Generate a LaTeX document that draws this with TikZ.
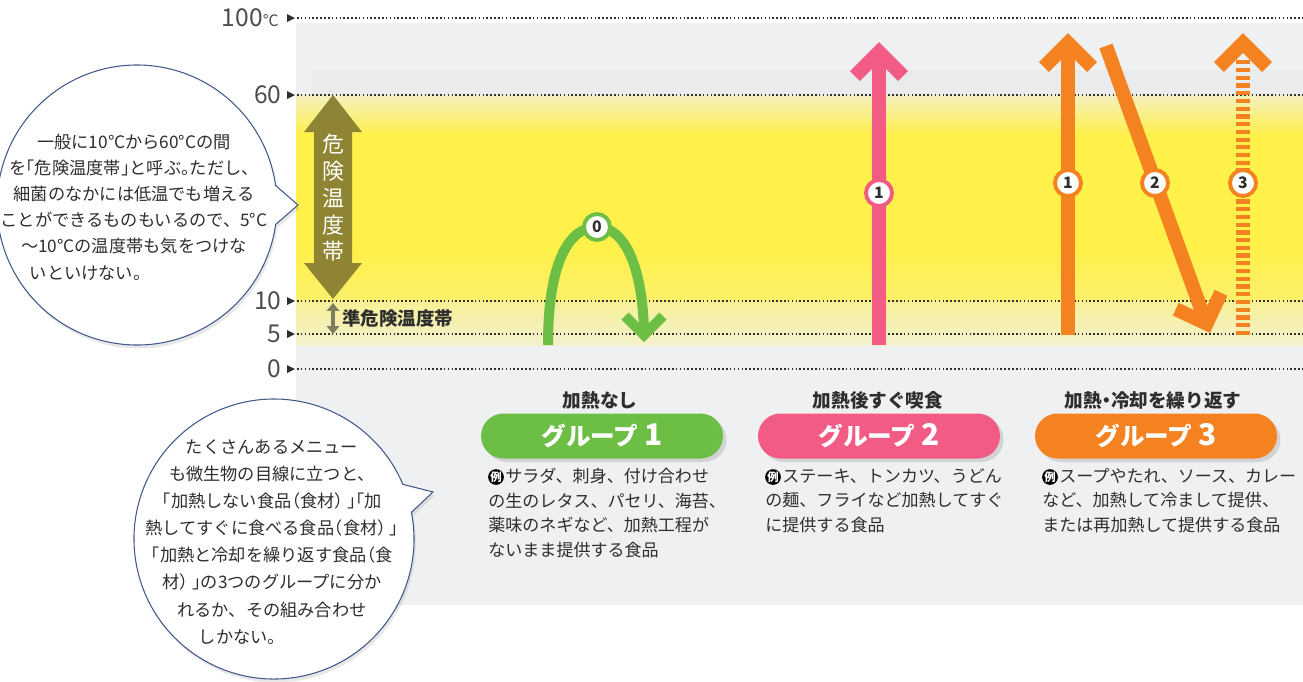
\documentclass[tikz,border=0pt]{standalone}
\usepackage{fontspec}
\setmainfont{Noto Sans CJK JP}
\usetikzlibrary{arrows.meta,shadows}
\definecolor{grp1}{HTML}{6DBE45}
\definecolor{grp2}{HTML}{F25C84}
\definecolor{grp3}{HTML}{F58220}
\definecolor{panel}{HTML}{EFF0F2}
\definecolor{panedark}{HTML}{EAEBED}
\definecolor{band}{HTML}{FFF04A}
\definecolor{olive}{HTML}{857B30}
\definecolor{olivegray}{HTML}{7E7E5E}
\definecolor{bubbleline}{HTML}{41598A}
\definecolor{ink}{HTML}{2E2E2E}
\newcommand{\openq}{\makebox[0.5em][r]{「}}
\newcommand{\closeq}{\makebox[0.5em][l]{」}}
\newcommand{\openp}{\makebox[0.5em][r]{（}}
\newcommand{\closep}{\makebox[0.5em][l]{）}}
\newcommand{\hmaru}{\makebox[0.5em][l]{。}}
\newcommand{\nakag}{\makebox[0.5em][c]{・}}
\begin{document}
\begin{tikzpicture}[x=0.02cm,y=-0.02cm,
  tick/.style={anchor=east,inner sep=0,text=ink!85,font=\fontsize{14}{14}\selectfont},
  grid/.style={line width=0.9pt,dash pattern=on 0.9pt off 1.3pt,ink},
  shaft/.style={line width=0.28cm},
  numdot/.style={circle,fill=white,draw=#1,line width=2.2pt,minimum size=0.52cm,inner sep=0,
    text=ink,font=\fontsize{9}{9}\selectfont\bfseries},
  pill/.style={rounded corners=0.45cm,fill=#1,minimum width=4.84cm,minimum height=0.9cm,
    text=white,font=\fontsize{14}{14}\selectfont\bfseries,
    drop shadow={opacity=0.25,shadow xshift=2pt,shadow yshift=-2pt}},
  head/.style={inner sep=0,text=ink,font=\fontsize{10.6}{10.6}\selectfont\bfseries},
  desc/.style={anchor=north west,align=left,inner sep=0,text=ink,font=\fontsize{9.7}{13.9}\selectfont},
  rei/.style={circle,fill=black,inner sep=0,minimum size=0.3cm,text=white,font=\fontsize{6.5}{6.5}\selectfont\bfseries},
  bubble/.style={fill=white,draw=bubbleline,line width=0.6pt,
    drop shadow={opacity=0.18,shadow xshift=1pt,shadow yshift=-2pt}},
  say/.style={align=center,inner sep=0,text=ink,font=\fontsize{9.8}{14.9}\selectfont}
]
\useasboundingbox (0,0) rectangle (1303,681);

\fill[panel] (296,23) rectangle (1303,605);
\fill[panedark] (312,70) rectangle (1303,95);
\shade[top color=band!30!panel,bottom color=band] (296,95) rectangle (1303,135);
\fill[band] (296,134) rectangle (1303,250);
\shade[top color=band,bottom color=band!80!panel] (296,249) rectangle (1303,301);
\shade[top color=band!55!panel,bottom color=band!22!panel] (296,301) rectangle (1303,345);

\node[tick] (t100) at (279,18) {100{\fontsize{9}{9}\selectfont ℃}};
\node[tick] (t60) at (282,95) {60};
\node[tick] (t10) at (282,301) {10};
\node[tick] (t5) at (282,334) {5};
\node[tick] (t0) at (282,369) {0};
\foreach \y in {18,95,301,334,369}{
  \fill[ink] (287,\y-4) -- (295,\y) -- (287,\y+4) -- cycle;
  \draw[grid] (297,\y) -- (1303,\y);
}

\fill[olive,opacity=0.92] (333,95) -- (362,132) -- (352,132) -- (352,263) -- (362,263)
  -- (333,299) -- (304,263) -- (314,263) -- (314,132) -- (304,132) -- cycle;
\node[align=center,inner sep=0,text=white,font=\fontsize{12.5}{15.2}\selectfont] (danger) at (333,198)
  {危\\険\\温\\度\\帯};
\draw[olivegray,line width=1.8pt,{Triangle[width=7pt,length=4.5pt]}-{Triangle[width=7pt,length=4.5pt]}]
  (333,303) -- (333,334);
\node[anchor=west,inner sep=0,text=ink,font=\fontsize{10.5}{10.5}\selectfont\bfseries] (semi) at (342,318)
  {準危険温度帯};

\draw[grp1,line width=0.2cm] (548,345) .. controls (548,260) and (570,227) .. (597,227)
  .. controls (624,227) and (642,265) .. (644,330);
\draw[grp1,line width=0.2cm] (625,316) -- (644,335) -- (663,316);
\node[numdot=grp1] (n0) at (597,227) {0};

\draw[grp2,shaft] (879,345) -- (879,50);
\draw[grp2,shaft] (855,76) -- (879,52) -- (903,76);
\node[numdot=grp2] (n21) at (879,193) {1};

\draw[grp3,shaft] (1068,335) -- (1068,42);
\draw[grp3,shaft] (1044,67) -- (1068,43) -- (1092,67);
\node[numdot=grp3] (n31) at (1068,183) {1};

\draw[grp3,shaft] (1106,46) -- (1205,320);
\draw[grp3,shaft] (1175.8,309.2) -- (1206.6,323.6) -- (1221,292.8);
\node[numdot=grp3] (n32) at (1155,183) {2};

\draw[grp3,shaft,dash pattern=on 2.4pt off 2pt] (1243,335) -- (1243,58);
\draw[grp3,shaft] (1219,67) -- (1243,43) -- (1267,67);
\node[numdot=grp3] (n33) at (1243,183) {3};

\node[head] (h1) at (600,400) {加熱なし};
\node[head] (h2) at (878,400) {加熱後すぐ喫食};
\node[head] (h3) at (1153,400) {加熱\nakag 冷却を繰り返す};

\node[pill=grp1] (p1) at (602,436) {グループ\ {\fontsize{17}{17}\selectfont 1}};
\node[pill=grp2] (p2) at (879,436) {グループ\ {\fontsize{17}{17}\selectfont 2}};
\node[pill=grp3] (p3) at (1156,436) {グループ\ {\fontsize{17}{17}\selectfont 3}};

\node[desc] (d1) at (488,468) {\hphantom{例}サラダ、刺身、付け合わせ\\の生のレタス、パセリ、海苔、\\薬味のネギなど、加熱工程が\\ないまま提供する食品};
\node[desc] (d2) at (765,468) {\hphantom{例}ステーキ、トンカツ、うどん\\の麺、フライなど加熱してすぐ\\に提供する食品};
\node[desc] (d3) at (1042,468) {\hphantom{例}スープやたれ、ソース、カレー\\など、加熱して冷まして提供、\\または再加熱して提供する食品};
\node[rei] (r1) at (496,477) {例};
\node[rei] (r2) at (773,477) {例};
\node[rei] (r3) at (1050,477) {例};

\coordinate (b1c) at (137,205);
\coordinate (b1tip) at (298,205);
\filldraw[bubble] (b1c) ++(8:140) arc[start angle=8,end angle=352,radius=140] -- (b1tip) -- cycle;
\node[say] (b1text) at (134,207)
  {一般に10°Cから60°Cの間\\を\openq 危険温度帯\closeq と呼ぶ\hmaru ただし、\\細菌のなかには低温でも増える\\ことができるものもいるので、5°C\\～10°Cの温度帯も気をつけな\\いといけない\hmaru\rule{5.6em}{0pt}};

\coordinate (b2c) at (274,539);
\coordinate (b2tip) at (433,492);
\filldraw[bubble] (b2c) ++(-11:140) arc[start angle=-11,end angle=337,radius=140] -- (b2tip) -- cycle;
\node[say,font=\fontsize{9.8}{15.4}\selectfont] (b2text) at (272,542)
  {たくさんあるメニュー\\も微生物の目線に立つと、\\\openq 加熱しない食品\openp 食材\closep\ \closeq\openq 加\\熱してすぐに食べる食品\openp 食材\closep\ \closeq\\\openq 加熱と冷却を繰り返す食品\openp 食\\材\closep\ \closeq の3つのグループに分か\\れるか、その組み合わせ\\しかない\hmaru\rule{4em}{0pt}};
\end{tikzpicture}
\end{document}
